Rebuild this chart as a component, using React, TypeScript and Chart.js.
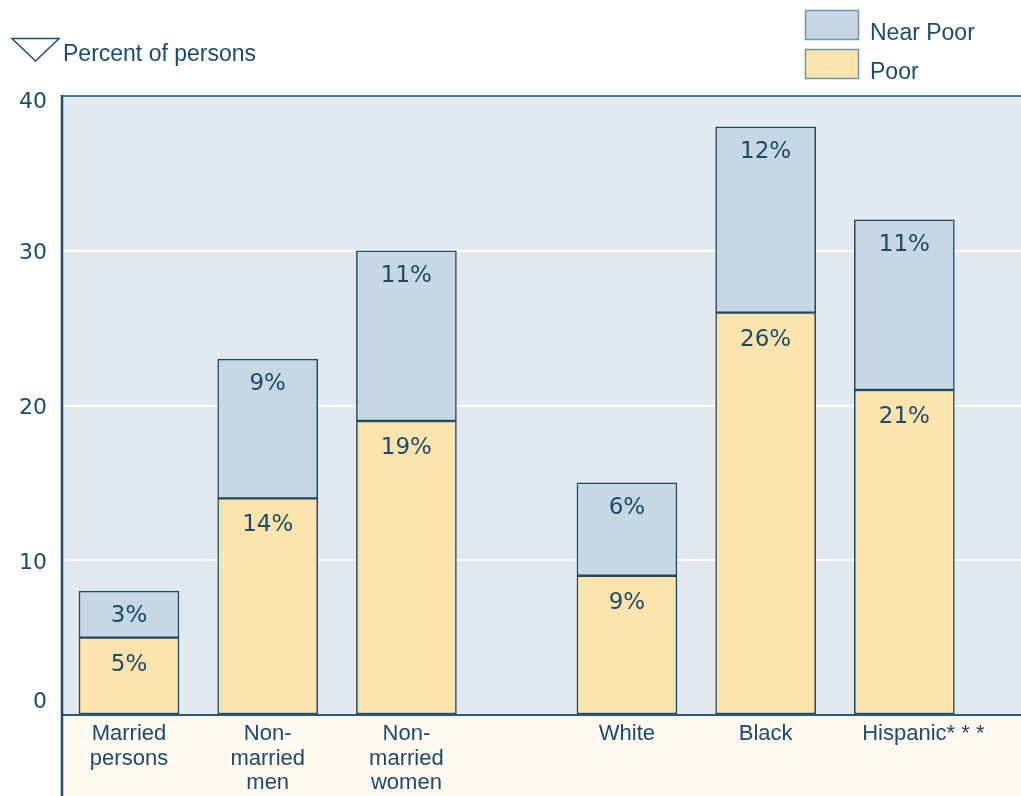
import React, { useEffect, useRef } from "react";
import { Chart, registerables } from "chart.js";
Chart.register(...registerables);

const categories: string[][] = [
  ["Married", "persons"],
  ["Non-", "married", "men"],
  ["Non-", "married", "women"],
  ["White"],
  ["Black"],
  ["Hispanic* * *"],
];
const positions = [0, 1, 2, 3.59, 4.59, 5.59];
const poor = [5, 14, 19, 9, 26, 21];
const nearPoor = [3, 9, 11, 6, 12, 11];
const yTicks = [0, 10, 20, 30, 40];
const legendLabels = ["Near Poor", "Poor"];
const title = "Percent of persons";

const TEXT = "#1B4B68";
const NEAR_FILL = "#C6D8E4";
const POOR_FILL = "#FDE4AE";
const BAR_BORDER = "#1E4A63";

const customPlugin = {
  id: "custom",
  beforeDraw(chart: any) {
    const { ctx, chartArea: a } = chart;
    ctx.save();
    ctx.fillStyle = "#E2E9F1";
    ctx.fillRect(a.left, a.top, a.right - a.left, a.bottom - a.top);
    ctx.fillStyle = "#FEF8EF";
    ctx.fillRect(a.left, a.bottom, a.right - a.left, chart.height - a.bottom);
    ctx.restore();
  },
  afterDatasetsDraw(chart: any) {
    const { ctx, chartArea: a } = chart;
    ctx.save();
    ctx.strokeStyle = "#4A7A94";
    ctx.lineWidth = 2;
    ctx.beginPath();
    ctx.moveTo(a.left, a.top);
    ctx.lineTo(a.right, a.top);
    ctx.stroke();
    ctx.strokeStyle = "#2A5A78";
    ctx.lineWidth = 2;
    ctx.beginPath();
    ctx.moveTo(a.left, a.bottom);
    ctx.lineTo(a.right, a.bottom);
    ctx.stroke();
    ctx.strokeStyle = "#1E4E6C";
    ctx.lineWidth = 2.5;
    ctx.beginPath();
    ctx.moveTo(a.left, a.top - 1);
    ctx.lineTo(a.left, chart.height);
    ctx.stroke();

    ctx.fillStyle = TEXT;
    ctx.font = "23px 'DejaVu Sans'";
    ctx.textAlign = "center";
    ctx.textBaseline = "middle";
    chart.data.datasets.forEach((ds: any, di: number) => {
      const meta = chart.getDatasetMeta(di);
      const dy = di === 0 ? 27 : 25;
      meta.data.forEach((bar: any, i: number) => {
        const v = ds.data[i].y;
        ctx.fillText(v + "%", bar.x, bar.y + dy);
      });
    });
    ctx.restore();
  },
  afterDraw(chart: any) {
    const { ctx, chartArea: a } = chart;
    const ys = chart.scales.y;
    const xs = chart.scales.x;
    ctx.save();
    ctx.fillStyle = TEXT;
    ctx.font = "22px 'DejaVu Sans'";
    ctx.textAlign = "right";
    ctx.textBaseline = "middle";
    yTicks.forEach((v) => {
      const p = ys.getPixelForValue(v);
      const off = v === 0 ? -13 : v === 40 ? 6 : 3;
      ctx.fillText(String(v), 47, p + off);
    });
    ctx.font = "22px 'Liberation Sans'";
    ctx.textAlign = "left";
    categories.forEach((lines, i) => {
      const x = xs.getPixelForValue(positions[i]);
      lines.forEach((ln, j) => {
        const star = ln.indexOf("*");
        const core = star >= 0 ? ln.slice(0, star) : ln;
        const w = ctx.measureText(core).width;
        ctx.fillText(ln, x - w / 2, a.bottom + 19 + j * 24.5);
      });
    });
    ctx.strokeStyle = "#1E4E6C";
    ctx.lineWidth = 1.5;
    ctx.beginPath();
    ctx.moveTo(12, 38.5);
    ctx.lineTo(59, 38.5);
    ctx.lineTo(35.5, 61);
    ctx.closePath();
    ctx.stroke();
    ctx.textAlign = "left";
    ctx.font = "23px 'Liberation Sans'";
    ctx.fillText(title, 63, 55);
    const fills = [NEAR_FILL, POOR_FILL];
    const tops = [10.5, 49.5];
    legendLabels.forEach((lab, i) => {
      ctx.fillStyle = fills[i];
      ctx.fillRect(805.5, tops[i], 53, 29);
      ctx.strokeStyle = "#6F96AD";
      ctx.lineWidth = 1.5;
      ctx.strokeRect(805.5, tops[i], 53, 29);
      ctx.fillStyle = TEXT;
      ctx.fillText(lab, 870, tops[i] + 23);
    });
    ctx.restore();
  },
};

export default function App() {
  const ref = useRef<HTMLCanvasElement | null>(null);
  useEffect(() => {
    if (!ref.current) return;
    const chart = new Chart(ref.current, {
      type: "bar",
      data: {
        datasets: [
          {
            label: legendLabels[1],
            data: positions.map((x, i) => ({ x, y: poor[i] })),
            backgroundColor: POOR_FILL,
            borderColor: BAR_BORDER,
            borderWidth: 1.5,
            borderSkipped: false,
            barThickness: 100,
          },
          {
            label: legendLabels[0],
            data: positions.map((x, i) => ({ x, y: nearPoor[i] })),
            backgroundColor: NEAR_FILL,
            borderColor: BAR_BORDER,
            borderWidth: 1.5,
            borderSkipped: false,
            barThickness: 100,
          },
        ],
      } as any,
      options: {
        responsive: false,
        animation: false,
        layout: { padding: { top: 96, left: 0, right: 0, bottom: 0 } },
        plugins: { legend: { display: false }, tooltip: { enabled: false } },
        scales: {
          x: {
            type: "linear",
            stacked: true,
            offset: false,
            min: -0.483,
            max: 6.431,
            ticks: { display: false },
            grid: { display: false, offset: false },
            border: { display: false },
            afterFit: (s: any) => {
              s.height = 81;
            },
          },
          y: {
            stacked: true,
            min: 0,
            max: 40,
            ticks: { display: false, stepSize: 10 },
            grid: {
              color: (c: any) =>
                c.tick && c.tick.value > 0 && c.tick.value < 40 ? "#FFFFFF" : "rgba(0,0,0,0)",
              lineWidth: 2,
              drawTicks: false,
            },
            border: { display: false },
            afterFit: (s: any) => {
              s.width = 62;
            },
          },
        },
      } as any,
      plugins: [customPlugin],
    });
    return () => chart.destroy();
  }, []);
  return (
    <div style={{ position: "absolute", left: 0, top: 0, width: 1021, height: 796 }}>
      <canvas ref={ref} width={1021} height={796} style={{ display: "block" }} />
    </div>
  );
}
